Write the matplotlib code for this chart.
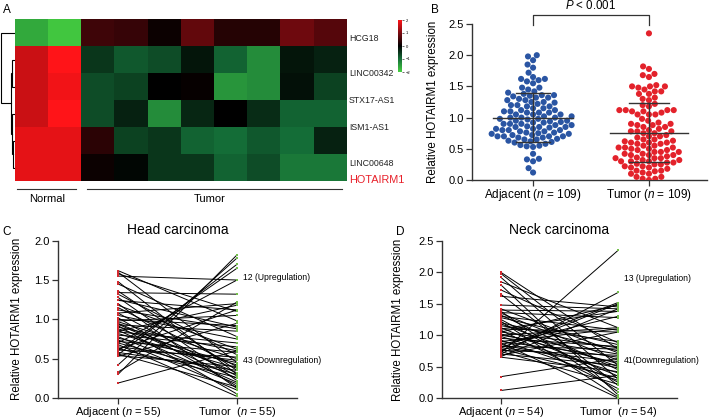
import numpy as np
import matplotlib
matplotlib.use("Agg")
import matplotlib.pyplot as plt
from matplotlib.colors import LinearSegmentedColormap
import seaborn as sns
import warnings
warnings.filterwarnings("ignore")

plt.rcParams['font.family'] = ['Liberation Sans', 'DejaVu Sans']
plt.rcParams['mathtext.fontset'] = 'custom'
plt.rcParams['mathtext.it'] = 'Liberation Sans:italic'
plt.rcParams['mathtext.rm'] = 'Liberation Sans'

# ---------------- data ----------------
genes = ["HCG18", "LINC00342", "STX17-AS1", "ISM1-AS1", "LINC00648", "HOTAIRM1"]
heat_values = [
    [-1.6, -1.9, 0.5, 0.45, 0.1, 0.8, 0.3, 0.3, 0.9, 0.7],
    [1.6, 2.0, -0.5, -0.8, -0.7, -0.2, -0.9, -1.3, -0.2, -0.3],
    [1.6, 1.9, -0.7, -0.6, 0.0, 0.05, -1.4, -1.3, -0.15, -0.6],
    [1.6, 2.0, -0.7, -0.3, -1.3, -0.35, 0.0, -0.4, -0.9, -0.9],
    [1.8, 1.8, 0.35, -0.6, -0.5, -0.9, -1.0, -0.8, -1.0, -0.3],
    [1.8, 1.8, 0.1, -0.05, -0.5, -0.5, -0.9, -0.7, -1.1, -1.1],
]
cbar_ticks = [2, 1, 0, -1, -2]

# Head carcinoma (panel C): paired adjacent / tumor
head_adjacent = [0.19, 0.30, 0.33, 0.42, 0.53, 0.55, 0.60, 0.62, 0.70, 0.85, 0.98, 1.08,
                 1.62, 1.60, 1.58, 1.55, 1.48, 1.45, 1.36, 1.34, 1.32, 1.28, 1.25, 1.24,
                 1.20, 1.18, 1.15, 1.12, 1.08, 1.05, 1.02, 1.00, 0.97, 0.95, 0.94, 0.93,
                 0.92, 0.90, 0.88, 0.86, 0.84, 0.82, 0.80, 0.78, 0.76, 0.74, 0.72, 0.70,
                 0.68, 0.65, 0.63, 0.61, 0.58, 0.56, 0.54]
head_tumor = [0.60, 1.82, 1.22, 1.78, 0.95, 1.70, 1.65, 1.12, 1.50, 1.18, 1.05, 1.20,
              0.98, 0.45, 1.10, 1.50, 0.30, 0.78, 0.35, 1.32, 0.55, 0.22, 0.90, 1.12,
              0.12, 0.62, 0.40, 0.88, 0.28, 0.75, 0.15, 0.92, 0.50, 0.32, 0.25, 0.85,
              0.05, 0.60, 0.42, 0.20, 0.70, 0.38, 0.65, 0.18, 0.45, 0.10, 0.58, 0.30,
              0.02, 0.48, 0.26, 0.52, 0.35, 0.14, 0.40]

# Neck carcinoma (panel D)
neck_adjacent = [0.72, 0.12, 0.34, 0.70, 0.75, 0.80, 0.66, 0.90, 1.00, 1.05, 0.85, 0.68, 1.10,
                 2.00, 1.98, 1.92, 1.85, 1.80, 1.72, 1.65, 1.62, 1.48, 1.42, 1.40, 1.38,
                 1.36, 1.35, 1.32, 1.30, 1.28, 1.25, 1.22, 1.20, 1.18, 1.15, 1.12, 1.10,
                 1.08, 1.05, 1.02, 1.00, 0.98, 0.95, 0.92, 0.90, 0.88, 0.85, 0.82, 0.80,
                 0.78, 0.76, 0.74, 0.70, 0.65]
neck_tumor = [2.35, 0.36, 0.63, 1.68, 1.50, 1.52, 1.42, 1.10, 1.12, 1.48, 1.30, 1.05, 1.38,
              0.78, 0.52, 0.30, 1.12, 0.05, 0.88, 0.20, 1.45, 1.42, 0.72, 1.38, 0.10,
              1.28, 0.60, 0.45, 1.08, 0.85, 0.25, 0.02, 0.75, 0.50, 0.90, 0.35, 1.05,
              0.15, 0.80, 0.55, 0.70, 0.40, 0.82, 0.28, 0.65, 0.00, 0.48, 0.78, 0.58,
              0.32, 0.68, 0.22, 0.52, 0.42]

# Panel B summary (mean, SD)
adj_mean, adj_sd = 1.00, 0.39
tum_mean, tum_sd = 0.76, 0.475

# ---------------- figure ----------------
W, H = 709, 420
fig = plt.figure(figsize=(W / 100, H / 100), dpi=100)


def fax(x0, y0, x1, y1):
    return fig.add_axes([x0 / W, 1 - y1 / H, (x1 - x0) / W, (y1 - y0) / H])


# ---- Panel A: heatmap ----
cmap = LinearSegmentedColormap.from_list("gbr", ["#46d040", "#156e38", "#000000", "#7a0a10", "#ff1418"])
axA = fax(15, 19, 347, 181)
im = axA.imshow(np.array(heat_values), cmap=cmap, vmin=-2, vmax=2, aspect='auto', interpolation='nearest')
axA.set_axis_off()

label_y = [0.22, 1.52, 2.52, 3.52, 4.85, 5.48]
for g, yy in zip(genes, label_y):
    if g == "HOTAIRM1":
        axA.text(9.56, yy, g, fontsize=7.8, color="#e8202a", va='center', ha='left', clip_on=False)
    else:
        axA.text(9.56, yy, g, fontsize=6.3, color="#222222", va='center', ha='left', clip_on=False)

# dendrogram
axDen = fax(0, 19, 15, 181)
axDen.set_xlim(0, 1)
axDen.set_ylim(6, 0)
axDen.set_axis_off()


def link(ax, xa, ya, xb, yb, xm):
    ax.plot([xa, xm, xm, xb], [ya, ya, yb, yb], color='black', lw=0.8, solid_joinstyle='miter')


leaf = 0.95
link(axDen, leaf, 1.5, leaf, 2.5, 0.8)
link(axDen, leaf, 4.5, leaf, 5.5, 0.85)
link(axDen, leaf, 3.5, 0.85, 5.0, 0.78)
link(axDen, 0.8, 2.0, 0.78, 4.25, 0.72)
link(axDen, leaf, 0.5, 0.72, 3.125, 0.07)

# colorbar
cax = fax(398, 20, 402, 72)
cb = fig.colorbar(im, cax=cax, ticks=cbar_ticks)
cb.outline.set_visible(False)
cax.tick_params(labelsize=3, length=1.5, width=0.4, pad=1)

# group lines
fig.add_artist(plt.Line2D([17 / W, 76 / W], [1 - 189 / H] * 2, color='#333333', lw=0.8))
fig.add_artist(plt.Line2D([87 / W, 342 / W], [1 - 189 / H] * 2, color='#333333', lw=0.8))
fig.text(47 / W, 1 - 199 / H, "Normal", fontsize=8, ha='center', va='center')
fig.text(210 / W, 1 - 199 / H, "Tumor", fontsize=8, ha='center', va='center')


def style_axis(ax, ymax, ystep):
    for s in ['top', 'right']:
        ax.spines[s].set_visible(False)
    for s in ['left', 'bottom']:
        ax.spines[s].set_linewidth(1.0)
        ax.spines[s].set_color('#333333')
    ax.set_ylim(0, ymax)
    ax.set_yticks(np.arange(0, ymax + 1e-9, ystep))
    ax.set_yticklabels([f"{v:.1f}" for v in np.arange(0, ymax + 1e-9, ystep)])
    ax.tick_params(axis='both', labelsize=8, length=4, width=0.9, color='#333333', pad=2)
    ax.tick_params(axis='x', pad=1)


# ---- Panel B: swarm ----
axB = fax(472, 24, 707, 180)
adj_all = head_adjacent + neck_adjacent
tum_all = head_tumor + neck_tumor
xs = ["Adjacent"] * len(adj_all) + ["Tumor"] * len(tum_all)
ys = adj_all + tum_all
axB.set_xlim(-0.527, 1.501)
style_axis(axB, 2.5, 0.5)
sns.swarmplot(x=xs, y=ys, ax=axB, hue=xs, palette={"Adjacent": "#2a55a3", "Tumor": "#e3222b"},
              size=4.4, linewidth=0, legend=False, order=["Adjacent", "Tumor"])
axB.set_xlim(-0.527, 1.501)
axB.set_ylim(0, 2.5)
for pos, m, sd, half, cap in [(0, adj_mean, adj_sd, 0.345, 0.15), (1, tum_mean, tum_sd, 0.335, 0.17)]:
    axB.plot([pos - half, pos + half], [m, m], color='#333333', lw=1.0, zorder=5)
    axB.plot([pos, pos], [m - sd, m + sd], color='#333333', lw=1.0, zorder=5)
    axB.plot([pos - cap, pos + cap], [m + sd] * 2, color='#333333', lw=1.0, zorder=5)
    axB.plot([pos - cap, pos + cap], [m - sd] * 2, color='#333333', lw=1.0, zorder=5)
axB.set_xticks([0, 1])
axB.set_xticklabels([r"Adjacent ($\mathit{n}$ = 109)", r"Tumor ($\mathit{n}$ = 109)"], fontsize=8.5)
axB.set_ylabel("Relative HOTAIRM1 expression", fontsize=8.3)
axB.yaxis.set_label_coords(-0.140, 0.5)
axB.plot([0, 0, 1, 1], [2.484, 2.644, 2.644, 2.484], color='#333333', lw=0.9, clip_on=False)
axB.text(0.5, 2.79, r"$\mathit{P}$ < 0.001", fontsize=8.3, ha='center', va='center', clip_on=False)


# ---- Panels C and D ----
def paired(ax, adj, tum, ymax, n, title, up_text, down_text, up_y, down_y, labx):
    ax.set_xlim(-0.504, 1.504)
    style_axis(ax, ymax, 0.5)
    for a, t in zip(adj, tum):
        ax.plot([0, 1], [a, t], color='black', lw=0.7, zorder=2)
    ax.plot([0] * len(adj), adj, ls='none', marker='s', ms=1.6, color='#d42a30', mew=0, zorder=3)
    ax.plot([1] * len(tum), tum, ls='none', marker='s', ms=1.6, color='#74c04c', mew=0, zorder=3)
    ax.set_xticks([0, 1])
    ax.set_xticklabels([rf"Adjacent ($\mathit{{n}}$ = {n})", rf"Tumor  ($\mathit{{n}}$ = {n})"], fontsize=8)
    ax.set_ylabel("Relative HOTAIRM1 expression", fontsize=8.3)
    ax.yaxis.set_label_coords(labx, 0.5)
    ax.set_title(title, fontsize=10, pad=5)
    ax.text(1.05, up_y, up_text, fontsize=6.2, ha='left', va='center')
    ax.text(1.05, down_y, down_text, fontsize=6.2, ha='left', va='center')


axC = fax(58, 240.7, 297, 398)
paired(axC, head_adjacent, head_tumor, 2.0, 55, "Head carcinoma",
       "12 (Upregulation)", "43 (Downregulation)", 1.53, 0.48, -0.146)

axD = fax(442, 241, 677, 398)
paired(axD, neck_adjacent, neck_tumor, 2.5, 54, "Neck carcinoma",
       "13 (Upregulation)", "41(Downregulation)", 1.90, 0.59, -0.162)

# panel letters
for txt, x, y in [("A", 7, 10), ("B", 435, 10), ("C", 7, 232), ("D", 400, 232)]:
    fig.text(x / W, 1 - y / H, txt, fontsize=8.5, ha='center', va='center')

fig.savefig("out.png", dpi=100)
